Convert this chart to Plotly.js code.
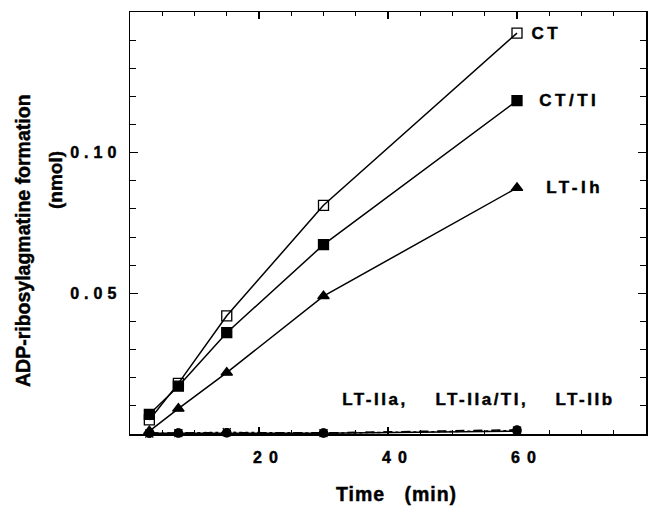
<!DOCTYPE html>
<html>
<head>
<meta charset="utf-8">
<script src="https://cdn.plot.ly/plotly-3.0.1.min.js"></script>
<style>
html,body{margin:0;padding:0;background:#fff;}
#chart{width:648px;height:513px;}
.xtick text{letter-spacing:7px;}
.ytick text{letter-spacing:5px;}
.xtick text,.ytick text,g.annotation text{stroke:#000;stroke-width:0.45px;}
g.annotation[data-index="0"] text,
g.annotation[data-index="1"] text,
g.annotation[data-index="2"] text{letter-spacing:3.5px;}
g.annotation[data-index="3"] text,
g.annotation[data-index="4"] text,
g.annotation[data-index="5"] text{letter-spacing:2.5px;}
g.annotation[data-index="6"] text{letter-spacing:1px;}
</style>
</head>
<body>
<div id="chart"></div>
<script>
// Data
var timeMin = [3, 7.5, 15, 30, 60];
var ctValues = [0.005, 0.018, 0.042, 0.0813, 0.1425];
var ctTiValues = [0.007, 0.017, 0.036, 0.0673, 0.1185];
var ltIhValues = [0.001, 0.009, 0.0218, 0.049, 0.0875];
var ltIIaValues = [0.0003, 0.0003, 0.0004, 0.0003, 0.001];
var ltIIaTiValues = [0.0003, 0.0004, 0.0005, 0.0004, 0.0015];
var ltIIbValues = [0.0002, 0.0003, 0.0006, 0.0003, 0.0012];
var xTickVals = [20, 40, 60];
var xTickText = ['20', '40', '60'];
var yTickVals = [0.05, 0.10];
var yTickText = ['0.05', '0.10'];

var bold = {family: 'Liberation Sans, Arial, sans-serif', color: '#000', weight: 'bold'};
function f(size){ return Object.assign({}, bold, {size: size}); }

function series(name, y, symbol, dash, size){
  return {
    x: timeMin, y: y, name: name, type: 'scatter', mode: 'lines+markers',
    cliponaxis: false,
    line: {color: '#000', width: 1.5, dash: dash},
    marker: {symbol: symbol, size: size || 9, color: '#000', line: {color: '#000', width: 1.3}}
  };
}

var data = [
  series('LT-IIa', ltIIaValues, 'circle-open', 'solid', 8),
  series('LT-IIa/TI', ltIIaTiValues, 'circle', 'dash', 8),
  series('LT-IIb', ltIIbValues, 'x-thin-open', 'dot', 8),
  series('LT-Ih', ltIhValues, 'triangle-up', 'solid', 10),
  series('CT/TI', ctTiValues, 'square', 'solid', 10),
  series('CT', ctValues, 'square-open', 'solid', 10)
];

var plotW = 648 - 130 - 2, plotH = 513 - 12 - 79;
function px(x){ return (x - 130) / plotW; }
function py(y){ return (513 - 79 - y) / plotH; }

function lab(text, x, y, size){
  return {text: text, x: x, y: y, xref: 'x', yref: 'y', xanchor: 'center', yanchor: 'middle', showarrow: false, font: f(size)};
}

var layout = {
  width: 648, height: 513,
  margin: {l: 130, r: 2, t: 12, b: 79},
  paper_bgcolor: '#fff', plot_bgcolor: '#fff',
  showlegend: false,
  xaxis: {
    range: [0, 80], tickmode: 'array', tickvals: xTickVals, ticktext: xTickText,
    showline: true, linecolor: '#000', linewidth: 1.5, mirror: 'ticks',
    ticks: 'inside', ticklen: 7, tickwidth: 1.3, tickcolor: '#000',
    minor: {tickmode: 'linear', tick0: 0, dtick: 5, ticks: 'inside', ticklen: 4, tickwidth: 1, tickcolor: '#000'},
    showgrid: false, zeroline: false, tickfont: f(16), ticklabelstandoff: 8, ticklabelshift: 10
  },
  yaxis: {
    range: [0, 0.15], tickmode: 'array', tickvals: yTickVals, ticktext: yTickText,
    showline: true, linecolor: '#000', linewidth: 1.5, mirror: 'ticks',
    ticks: 'inside', ticklen: 8, tickwidth: 1.3, tickcolor: '#000',
    minor: {tickmode: 'linear', tick0: 0, dtick: 0.01, ticks: 'inside', ticklen: 6, tickwidth: 1, tickcolor: '#000'},
    showgrid: false, zeroline: false, tickfont: f(16), ticklabelstandoff: 4
  },
  annotations: [
    lab('CT', 64.6, 0.1425, 17),
    lab('CT/TI', 68.1, 0.1185, 17),
    lab('LT-Ih', 68.9, 0.0875, 17),
    lab('LT-IIa,', 38.0, 0.0122, 17),
    lab('LT-IIa/TI,', 54.5, 0.0122, 17),
    lab('LT-IIb', 70.6, 0.0122, 17),
    {text: 'Time   (min)', xref: 'paper', yref: 'paper', x: px(396), y: py(494), xanchor: 'center', yanchor: 'middle', showarrow: false, font: f(19.5)},
    {text: 'ADP-ribosylagmatine formation', textangle: -90, xref: 'paper', yref: 'paper', x: px(23), y: py(241), xanchor: 'center', yanchor: 'middle', showarrow: false, font: f(19.5)},
    {text: '(nmol)', textangle: -90, xref: 'paper', yref: 'paper', x: px(55), y: py(180), xanchor: 'center', yanchor: 'middle', showarrow: false, font: f(19)}
  ]
};

Plotly.newPlot('chart', data, layout, {displayModeBar: false, staticPlot: true});
</script>
</body>
</html>
